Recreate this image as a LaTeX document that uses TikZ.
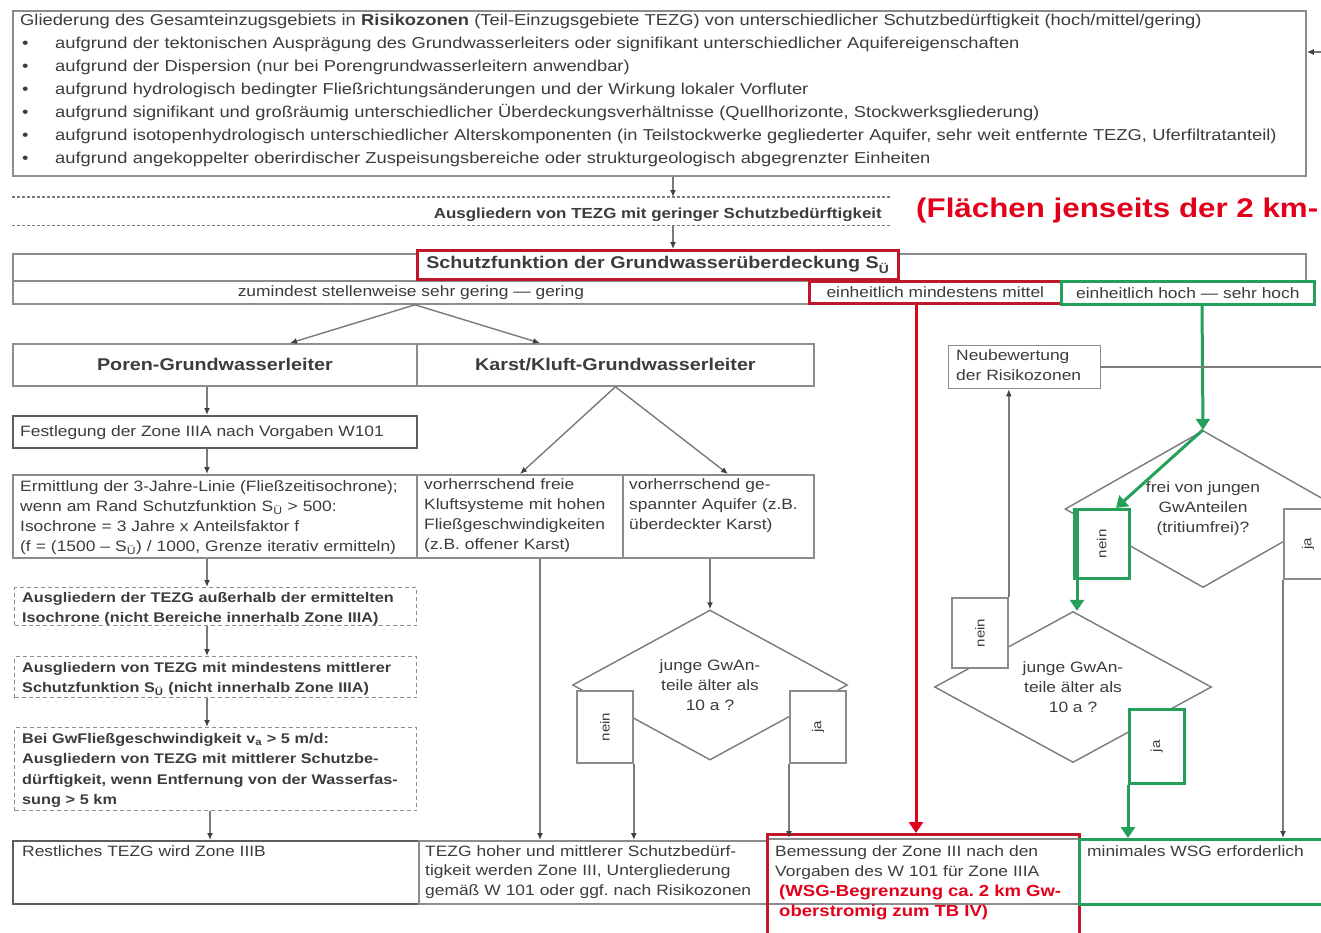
\documentclass[tikz,border=0pt]{standalone}
\usepackage{fontspec}
\setmainfont{Liberation Sans}[FakeStretch=1.16]
\usetikzlibrary{arrows.meta,shapes.geometric}
\definecolor{boxgray}{HTML}{8C8C8C}
\definecolor{darkbox}{HTML}{5E5E5E}
\definecolor{linegray}{HTML}{7A7A7A}
\definecolor{txtc}{HTML}{3C3C3C}
\definecolor{myred}{HTML}{E3001B}
\definecolor{redbox}{HTML}{C0182A}
\definecolor{mygreen}{HTML}{24A05A}
\newcommand\fsn{\fontsize{15}{20}\selectfont}
\newcommand\fst{\fontsize{15.8}{23}\selectfont}
\newcommand\fsb{\fontsize{14}{20.5}\selectfont\bfseries}
\newcommand\fsh{\fontsize{17}{20}\selectfont\bfseries}
\newcommand\bul{\makebox[35pt][l]{\hspace{2pt}•}}
\frenchspacing
\begin{document}
\begin{tikzpicture}[x=1pt,y=-1pt,
  box/.style={rectangle, draw=boxgray, line width=1.8pt, fill=white, inner sep=0pt, anchor=north west, font=\fsn, text=txtc},
  dbox/.style={box, draw=darkbox, line width=2.4pt},
  dashbox/.style={box, line width=1.2pt, dash pattern=on 4pt off 3pt},
  rbox/.style={box, draw=redbox, line width=2.6pt},
  gbox/.style={box, draw=mygreen, line width=2.6pt},
  txt/.style={inner sep=0pt, anchor=base west, align=left, text=txtc, font=\fsn},
  dia/.style={diamond, draw=linegray, line width=1.4pt, inner sep=0pt, aspect=1.83, align=center, font=\fsn, text=txtc},
  rlab/.style={rotate=90, inner sep=0pt, font=\fontsize{13}{15}\selectfont, text=txtc},
  con/.style={draw=linegray, line width=1.4pt, -{Latex[length=7pt,width=6pt,color=black!75]}},
  plain/.style={draw=linegray, line width=1.4pt},
  redcon/.style={draw=myred, line width=3pt, -{Triangle[length=11pt,width=14pt]}},
  greencon/.style={draw=mygreen, line width=3pt, -{Triangle[length=11pt,width=14pt]}},
  dashl/.style={draw=linegray, line width=1.3pt, dash pattern=on 3pt off 2pt}]
\useasboundingbox (0,0) rectangle (1321,932);
\clip (0,0) rectangle (1321,932);
\fill[white] (0,0) rectangle (1321,932);

% x positions
\foreach \xx in {207,210,290,415,520,540,673,710,728,916,1077,1116,1202}{\coordinate (c\xx) at (\xx,0);}
\coordinate (cR) at (1321,0);
\coordinate (cR52) at (1321,52);

% top box
\node[box, minimum width=1293, minimum height=165] (top) at (12,10) {};
\node[txt, font=\fst, text width=1290pt] (ttop) at (20,25) {Gliederung des Gesamteinzugsgebiets in \textbf{Risikozonen} (Teil-Einzugsgebiete TEZG) von unterschiedlicher Schutzbedürftigkeit (hoch/mittel/gering)\\
\bul aufgrund der tektonischen Ausprägung des Grundwasserleiters oder signifikant unterschiedlicher Aquifereigenschaften\\
\bul aufgrund der Dispersion (nur bei Porengrundwasserleitern anwendbar)\\
\bul aufgrund hydrologisch bedingter Fließrichtungsänderungen und der Wirkung lokaler Vorfluter\\
\bul aufgrund signifikant und großräumig unterschiedlicher Überdeckungsverhältnisse (Quellhorizonte, Stockwerksgliederung)\\
\bul aufgrund isotopenhydrologisch unterschiedlicher Alterskomponenten (in Teilstockwerke gegliederter Aquifer, sehr weit entfernte TEZG, Uferfiltratanteil)\\
\bul aufgrund angekoppelter oberirdischer Zuspeisungsbereiche oder strukturgeologisch abgegrenzter Einheiten};

% Ausgliedern geringe
\node[inner sep=0pt, anchor=north west, minimum width=878, minimum height=28] (ausg) at (12,197) {};
\node[txt, anchor=base east, font=\fontsize{14.6}{20}\selectfont\bfseries] (tausg) at (882,218) {Ausgliedern von TEZG mit geringer Schutzbedürftigkeit};
\draw[dashl] (ausg.north west) -- (ausg.north east);
\draw[dashl] (ausg.south west) -- (ausg.south east);
\node[inner sep=0pt, anchor=base west, text=myred, font=\fontsize{27}{30}\selectfont\bfseries] (rednote) at (916,217) {(Flächen jenseits der 2 km-};

% Schutzfunktion
\node[box, minimum width=1293, minimum height=27] (sf1) at (12,253) {};
\node[box, minimum width=796, minimum height=23] (sf2a) at (12,280) {zumindest stellenweise sehr gering — gering};
\node[rbox, minimum width=481, minimum height=29, font=\fsh] (sft) at (416,249) {Schutzfunktion der Grundwasserüberdeckung S\textsubscript{Ü}};
\node[rbox, minimum width=252, minimum height=22] (sf2b) at (808,280) {einheitlich mindestens mittel};
\node[gbox, minimum width=253, minimum height=23] (sf2c) at (1060,280) {einheitlich hoch — sehr hoch};

% Poren / Karst
\node[box, minimum width=404, minimum height=42, font=\fsh] (poren) at (12,343) {Poren-Grundwasserleiter};
\node[box, minimum width=397, minimum height=42, font=\fsh] (karst) at (416,343) {Karst/Kluft-Grundwasserleiter};

% left column
\node[dbox, minimum width=404, minimum height=32] (fest) at (12,415) {};
\node[txt] (tfest) at (20,436) {Festlegung der Zone IIIA nach Vorgaben W101};
\node[box, minimum width=404, minimum height=83] (erm) at (12,474) {};
\node[txt, text width=400pt] (term) at (20,491) {Ermittlung der 3-Jahre-Linie (Fließzeitisochrone);\\wenn am Rand Schutzfunktion S\textsubscript{Ü} > 500:\\Isochrone = 3 Jahre x Anteilsfaktor f\\(f = (1500 – S\textsubscript{Ü}) / 1000, Grenze iterativ ermitteln)};
\node[box, minimum width=206, minimum height=83] (frei) at (416,474) {};
\node[txt, text width=300pt] (tfrei) at (424,489) {vorherrschend freie\\Kluftsysteme mit hohen\\Fließgeschwindigkeiten\\(z.B. offener Karst)};
\node[box, minimum width=191, minimum height=83] (gesp) at (622,474) {};
\node[txt, text width=300pt] (tgesp) at (629,489) {vorherrschend ge-\\spannter Aquifer (z.B.\\überdeckter Karst)};

\node[dashbox, minimum width=402, minimum height=38] (aus1) at (14,587) {};
\node[txt, font=\fsb, text width=400pt] (taus1) at (22,602) {Ausgliedern der TEZG außerhalb der ermittelten\\Isochrone (nicht Bereiche innerhalb Zone IIIA)};
\node[dashbox, minimum width=402, minimum height=41] (aus2) at (14,656) {};
\node[txt, font=\fsb, text width=400pt] (taus2) at (22,672) {Ausgliedern von TEZG mit mindestens mittlerer\\Schutzfunktion S\textsubscript{Ü} (nicht innerhalb Zone IIIA)};
\node[dashbox, minimum width=402, minimum height=83] (bei) at (14,727) {};
\node[txt, font=\fsb, text width=400pt] (tbei) at (22,743) {Bei GwFließgeschwindigkeit v\textsubscript{a} > 5 m/d:\\Ausgliedern von TEZG mit mittlerer Schutzbe-\\dürftigkeit, wenn Entfernung von der Wasserfas-\\sung > 5 km};

% bottom row
\node[dbox, minimum width=406, minimum height=63] (rest) at (12,840) {};
\node[txt] (trest) at (22,856) {Restliches TEZG wird Zone IIIB};
\node[box, minimum width=350, minimum height=63] (tezg) at (418,840) {};
\node[txt, text width=400pt, font=\fontsize{15}{19.5}\selectfont] (ttezg) at (425,856) {TEZG hoher und mittlerer Schutzbedürf-\\tigkeit werden Zone III, Untergliederung\\gemäß W 101 oder ggf. nach Risikozonen};
\node[box, minimum width=312, minimum height=65] (bemrow) at (766,838) {};
\node[rbox, fill=none, minimum width=312, minimum height=103] (bem) at (766,833) {};
\node[txt, text width=400pt] (tbem) at (775,856) {Bemessung der Zone III nach den\\Vorgaben des W 101 für Zone IIIA\\{\fontsize{16}{20}\selectfont\bfseries\color{myred}\hspace*{4pt}(WSG-Begrenzung ca. 2 km Gw-}\\{\fontsize{16}{20}\selectfont\bfseries\color{myred}\hspace*{4pt}oberstromig zum TB IV)}};
\node[gbox, minimum width=252, minimum height=65] (min) at (1078,838) {};
\node[txt] (tmin) at (1087,856) {minimales WSG erforderlich};

% Neubewertung
\node[box, line width=1.3pt, minimum width=152, minimum height=43] (neu) at (948,345) {};
\node[txt, text width=200pt] (tneu) at (956,360) {Neubewertung\\der Risikozonen};

% diamonds
\node[dia, minimum width=275, minimum height=150] (d1) at (710,685) {junge GwAn-\\teile älter als\\10 a ?};
\node[dia, minimum width=276, minimum height=157] (d2) at (1203,509) {frei von jungen\\GwAnteilen\\(tritiumfrei)?};
\node[dia, minimum width=277, minimum height=151] (d3) at (1073,687) {junge GwAn-\\teile älter als\\10 a ?};

% yes/no boxes
\node[box, minimum width=56, minimum height=72] (d1n) at (576,690) {};
\node[rlab] (ld1n) at (d1n.center) {nein};
\node[box, minimum width=56, minimum height=72] (d1j) at (789,690) {};
\node[rlab] (ld1j) at (d1j.center) {ja};
\node[gbox, minimum width=55, minimum height=69] (d2n) at (1073,508) {};
\node[rlab] (ld2n) at (d2n.center) {nein};
\node[box, minimum width=48, minimum height=70] (d2j) at (1283,508) {};
\node[rlab] (ld2j) at (d2j.center) {ja};
\node[box, minimum width=56, minimum height=70] (d3n) at (951,597) {};
\node[rlab] (ld3n) at (d3n.center) {nein};
\node[gbox, minimum width=55, minimum height=74] (d3j) at (1128,708) {};
\node[rlab] (ld3j) at (d3j.center) {ja};

% connectors
\draw[con] (c673 |- top.south) -- (c673 |- ausg.north);
\draw[con] (c673 |- ausg.south) -- (c673 |- sft.north);
\draw[con] (c415 |- sf2a.south) -- (c290 |- poren.north);
\draw[con] (c415 |- sf2a.south) -- (c540 |- karst.north);
\draw[con] (c207 |- poren.south) -- (c207 |- fest.north);
\draw[con] (c207 |- fest.south) -- (c207 |- erm.north);
\draw[con] (c207 |- erm.south) -- (c207 |- aus1.north);
\draw[con] (c207 |- aus1.south) -- (c207 |- aus2.north);
\draw[con] (c207 |- aus2.south) -- (c207 |- bei.north);
\draw[con] (c210 |- bei.south) -- (c210 |- rest.north);
\draw[con] (karst.south) -- (c520 |- frei.north);
\draw[con] (karst.south) -- (c728 |- gesp.north);
\draw[con] (c540 |- frei.south) -- (c540 |- tezg.north);
\draw[con] (c710 |- gesp.south) -- (d1.north);
\draw[con] (d1n.south east) -- (d1n.south east |- tezg.north);
\draw[con] (d1j.south west) -- (d1j.south west |- bemrow.north);
\draw[redcon] (c916 |- sf2b.south) -- (c916 |- bem.north);
\draw[greencon] (c1202 |- sf2c.south) -- (d2.north);
\draw[greencon] (d2.north) -- (c1116 |- d2n.north);
\draw[greencon] (c1077 |- d2n.north) -- (c1077 |- d3.north);
\draw[con] (d3n.north east) -- (d3n.north east |- neu.south);
\draw[plain] (neu.east) -- (cR |- neu.east);
\draw[con] (cR52) -- (top.east |- cR52);
\draw[con] (d2j.south west) -- (d2j.south west |- min.north);
\draw[greencon] (d3j.south west) -- (d3j.south west |- min.north);
\end{tikzpicture}
\end{document}
